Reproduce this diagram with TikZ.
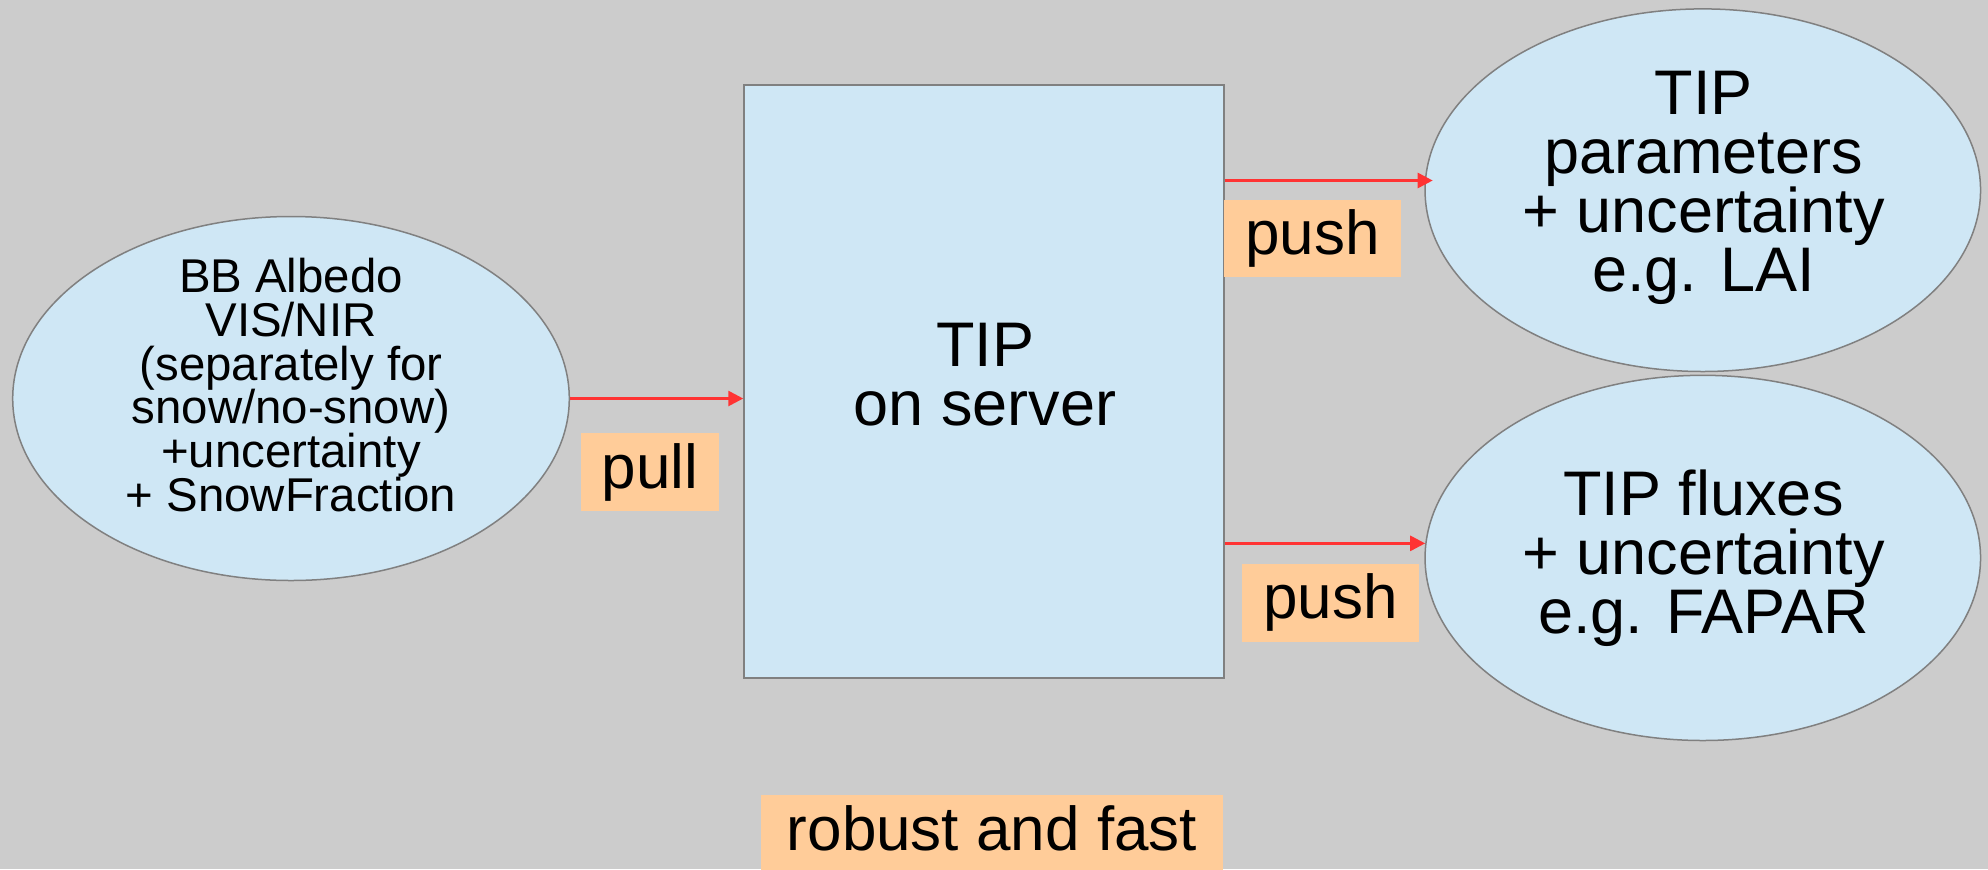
\documentclass[tikz,border=0pt]{standalone}
\usepackage{fontspec}
\setmainfont{Liberation Sans}
\usetikzlibrary{shapes.geometric,arrows.meta}

\definecolor{bggray}{HTML}{CCCCCC}
\definecolor{boxblue}{HTML}{CFE7F5}
\definecolor{tagorange}{HTML}{FFCC99}
\definecolor{arrowred}{HTML}{FF3333}
\definecolor{edgegray}{HTML}{808080}

% keep the tight line pitch even when lines nearly touch
\setlength{\lineskiplimit}{-1000pt}

\tikzset{
  blob/.style={ellipse, draw=edgegray, line width=0.75pt, fill=boxblue, inner sep=0pt},
  server/.style={rectangle, draw=edgegray, line width=1pt, fill=boxblue, inner sep=0pt},
  bigtext/.style={align=center, inner sep=0pt,
    font=\fontsize{31.5pt}{29.5pt}\selectfont},
  smalltext/.style={align=center, inner sep=0pt,
    font=\fontsize{23.7pt}{21.85pt}\selectfont},
  tag/.style={rectangle, fill=tagorange, inner sep=0pt,
    font=\fontsize{31pt}{31pt}\selectfont, text height=22.6pt, text depth=6.5pt},
  arr/.style={draw=arrowred, line width=1.35pt, -{Triangle[length=7.5pt,width=7.5pt]}}
}

\begin{document}
\begin{tikzpicture}[x=0.5pt, y=-0.5pt]
  % canvas
  \fill[bggray] (0,0) rectangle (1988,869);
  \useasboundingbox (0,0) rectangle (1988,869);

  % shapes
  \node[blob, minimum width=278.3pt, minimum height=182pt] (L) at (291,398.5) {};
  \node[server, minimum width=239.65pt, minimum height=296.65pt] (R) at (983.9,381.7) {};
  \node[blob, minimum width=277.75pt, minimum height=181.3pt] (TR) at (1702.8,190.2) {};
  \node[blob, minimum width=277.75pt, minimum height=182.6pt] (BR) at (1702.8,557.9) {};

  % texts inside the shapes
  \node[smalltext] (Ltxt) at (291,385) {BB Albedo\\ VIS/NIR\\(separately for\\snow/no-snow)\\+uncertainty\\+ SnowFraction};
  \node[bigtext] (Rtxt) at (985,374.7) {TIP\\on server};
  \node[bigtext] (TRtxt) at (1703.5,187.7) {TIP\\parameters\\+ uncertainty\\e.g. LAI};
  \node[bigtext] (BRtxt) at (1703.5,557.8) {TIP fluxes\\+ uncertainty\\e.g. FAPAR};

  % connectors
  \draw[arr] (L.east) -- (L.east -| R.west);
  \draw[arr, shorten >=-4pt] (TR.178 -| R.east) -- (TR.178);
  \draw[arr] (BR.177.3 -| R.east) -- (BR.177.3);

  % tags
  \node[tag, minimum width=69pt, minimum height=39pt] (pull) at (650,472) {pull};
  \node[tag, minimum width=88.5pt, minimum height=38.25pt] (push1) at (1312.5,238.3) {push};
  \node[tag, minimum width=88.5pt, minimum height=39pt] (push2) at (1330.5,602.7) {push};
  \node[tag, minimum width=231.15pt, minimum height=39pt] (robust) at (992,834) {robust and fast};
\end{tikzpicture}
\end{document}
